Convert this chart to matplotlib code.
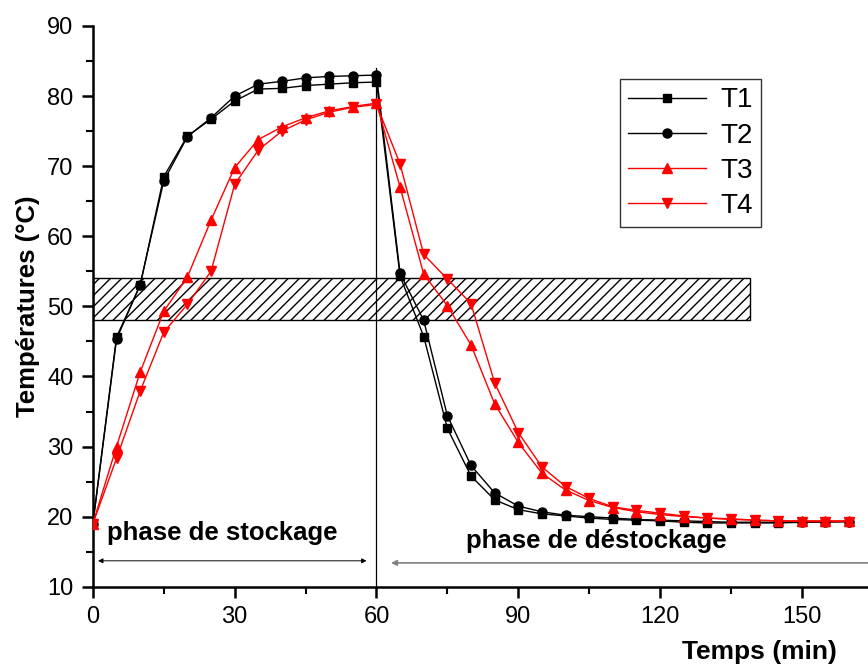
import matplotlib.pyplot as plt
from matplotlib.patches import Rectangle
from matplotlib.ticker import MultipleLocator

plt.rcParams['font.family'] = ['Liberation Sans', 'DejaVu Sans']

temps = [0, 5, 10, 15, 20, 25, 30, 35, 40, 45, 50, 55, 60, 65, 70, 75, 80,
         85, 90, 95, 100, 105, 110, 115, 120, 125, 130, 135, 140, 145, 150,
         155, 160]

t1 = [19.0, 45.6, 53.0, 68.5, 74.3, 76.7, 79.3, 81.0, 81.1, 81.5, 81.7, 81.9,
      82.0, 54.3, 45.7, 32.6, 25.8, 22.4, 21.0, 20.4, 20.1, 19.8, 19.6, 19.5,
      19.4, 19.2, 19.1, 19.1, 19.1, 19.1, 19.2, 19.2, 19.3]
t2 = [19.0, 45.3, 53.1, 67.9, 74.2, 76.9, 80.0, 81.7, 82.1, 82.6, 82.8, 82.9,
      83.0, 54.7, 48.0, 34.4, 27.3, 23.4, 21.5, 20.7, 20.2, 20.0, 19.8, 19.6,
      19.5, 19.4, 19.3, 19.2, 19.2, 19.2, 19.3, 19.3, 19.3]
t3 = [19.0, 30.0, 40.6, 49.3, 54.2, 62.3, 69.8, 73.8, 75.6, 76.9, 77.9, 78.5,
      79.0, 67.0, 54.6, 50.1, 44.5, 36.1, 30.6, 26.2, 23.8, 22.3, 21.3, 20.7,
      20.3, 20.0, 19.8, 19.6, 19.5, 19.4, 19.4, 19.4, 19.4]
t4 = [19.0, 28.3, 37.9, 46.3, 50.3, 55.0, 67.4, 72.3, 75.0, 76.6, 77.7, 78.4,
      78.8, 70.3, 57.4, 53.9, 50.4, 39.1, 32.0, 27.1, 24.3, 22.6, 21.4, 20.9,
      20.5, 20.1, 19.8, 19.7, 19.5, 19.4, 19.3, 19.3, 19.3]

fig = plt.figure(figsize=(8.68, 6.66), dpi=100)
ax = fig.add_axes([0.107, 0.119, 0.893, 0.842])

ax.add_patch(Rectangle((0, 48), 139, 6, facecolor='white', edgecolor='black',
                       linewidth=1, hatch='///', zorder=1))
ax.plot([60, 60], [10, 84], color='black', linewidth=0.9, zorder=2)

ax.plot(temps, t1, color='black', linewidth=1, marker='s', markersize=6,
        label='T1', zorder=3)
ax.plot(temps, t2, color='black', linewidth=1, marker='o', markersize=6.5,
        label='T2', zorder=3)
ax.plot(temps, t3, color='red', linewidth=1, marker='^', markersize=7,
        label='T3', zorder=3)
ax.plot(temps, t4, color='red', linewidth=1, marker='v', markersize=7,
        label='T4', zorder=3)

ax.annotate('', xy=(58.5, 13.7), xytext=(0.5, 13.7),
            arrowprops=dict(arrowstyle='<|-|>', color='black', lw=0.7,
                            mutation_scale=7), annotation_clip=False)
ax.annotate('', xy=(62.5, 13.4), xytext=(165, 13.4),
            arrowprops=dict(arrowstyle='-|>', color='gray', lw=1.2,
                            mutation_scale=8), annotation_clip=False)

ax.text(3, 17.6, 'phase de stockage', fontsize=18.5, fontweight='bold',
        va='center')
ax.text(79, 16.5, 'phase de déstockage', fontsize=18.5, fontweight='bold',
        va='center')

ax.set_xlim(0, 164)
ax.set_ylim(10, 90)
ax.xaxis.set_major_locator(MultipleLocator(30))
ax.xaxis.set_minor_locator(MultipleLocator(15))
ax.yaxis.set_major_locator(MultipleLocator(10))
ax.yaxis.set_minor_locator(MultipleLocator(5))
ax.tick_params(which='major', direction='out', length=8, width=1.8,
               labelsize=17, pad=6)
ax.tick_params(which='minor', direction='out', length=5, width=1.5)

for side in ['top', 'right']:
    ax.spines[side].set_visible(False)
for side in ['left', 'bottom']:
    ax.spines[side].set_linewidth(1.8)

ax.set_ylabel('Températures (°C)', fontsize=18.5, fontweight='bold')
ax.yaxis.set_label_coords(-0.068, 0.5)
fig.text(0.875, 0.021, 'Temps (min)', fontsize=19, fontweight='bold',
         ha='center', va='center')

leg = ax.legend(loc='upper left', bbox_to_anchor=(0.662, 0.93), fontsize=20,
                frameon=True, fancybox=False, edgecolor='black',
                handlelength=2.8, handletextpad=0.5, borderpad=0.3,
                labelspacing=0.33)
leg.get_frame().set_linewidth(1)

plt.savefig('out.png', dpi=100)
